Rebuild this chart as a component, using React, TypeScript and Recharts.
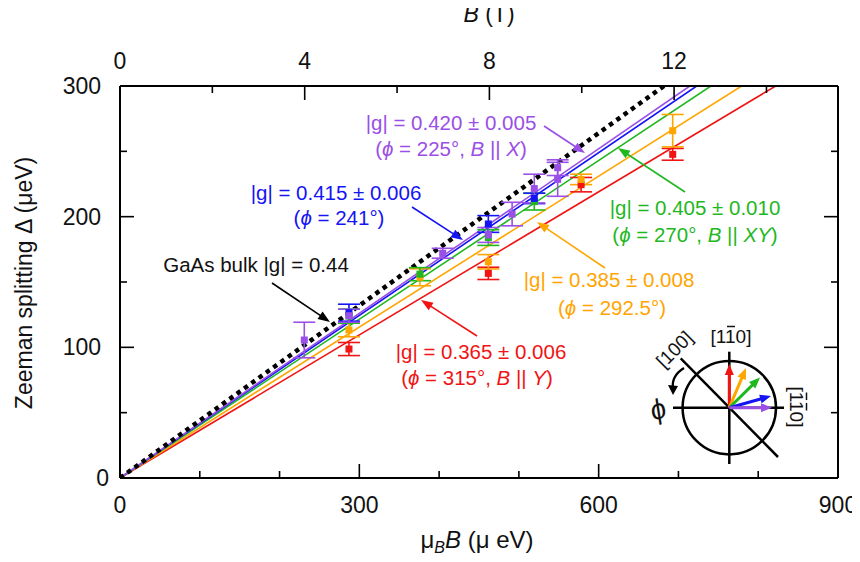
import React from "react";
import { ComposedChart, Line, Scatter, XAxis, YAxis, ErrorBar } from "recharts";

const FONT = '"Liberation Sans", Arial, Helvetica, sans-serif';

// axis ticks
const energyTicks = [0, 100, 200, 300, 400, 500, 600, 700, 800, 900];
const energyLabels = [0, 300, 600, 900];
const splitTicks = [0, 50, 100, 150, 200, 250, 300];
const splitLabels = [0, 100, 200, 300];
const fieldTicks = [0, 2, 4, 6, 8, 10, 12, 14];
const fieldLabels = [0, 4, 8, 12];
const muB = 57.88; // ueV per tesla
const fieldMax = 900 / muB;

// invisible span so the top (field) axis and right axis get drawn
const axisSpan = [{ x: 0, y: 0 }, { x: fieldMax, y: 300 }];

// fitted lines (origin to where they leave the frame at 300 ueV)
const bulkFit = [{ x: 0, y: 0 }, { x: 681.8, y: 300 }];
const purpleFit = [{ x: 0, y: 0 }, { x: 714.3, y: 300 }];
const blueFit = [{ x: 0, y: 0 }, { x: 722.9, y: 300 }];
const greenFit = [{ x: 0, y: 0 }, { x: 740.7, y: 300 }];
const orangeFit = [{ x: 0, y: 0 }, { x: 779.2, y: 300 }];
const redFit = [{ x: 0, y: 0 }, { x: 821.9, y: 300 }];

// measured points
const purplePts = [
  { x: 231, y: 105.6, e: 13.6 },
  { x: 287, y: 124.2, e: 5 },
  { x: 404.5, y: 172, e: 3.8 },
  { x: 461.7, y: 186, e: 5.7 },
  { x: 491.5, y: 202, e: 9 },
  { x: 519.3, y: 221.5, e: 11 },
  { x: 548.6, y: 237.5, e: 6 },
  { x: 548.6, y: 228.6, e: 13 },
];
const bluePts = [
  { x: 287, y: 126.5, e: 6.5 },
  { x: 461.7, y: 194.4, e: 6.4 },
  { x: 519.3, y: 214, e: 4 },
];
const greenPts = [
  { x: 287, y: 123.9, e: 5.4 },
  { x: 376, y: 156, e: 5 },
  { x: 461.7, y: 184, e: 6 },
  { x: 519.3, y: 211.5, e: 6.4 },
];
const orangePts = [
  { x: 287, y: 113.3, e: 5.2 },
  { x: 376, y: 153.6, e: 6.5 },
  { x: 461.7, y: 165.5, e: 5.5 },
  { x: 578, y: 228.5, e: 4 },
  { x: 692.8, y: 265.8, e: 12.4 },
];
const redPts = [
  { x: 287, y: 98.7, e: 5 },
  { x: 461.7, y: 156.6, e: 4.7 },
  { x: 578, y: 224.5, e: 5.5 },
  { x: 692.8, y: 247.7, e: 4.5 },
];

const C = {
  purple: "#9a4fe6",
  blue: "#1414f5",
  green: "#1fb81f",
  orange: "#ffa500",
  red: "#f01414",
};

const tickFont = { fontFamily: FONT, fontSize: 23, fill: "#111" };

const BottomTick = (p: any) => {
  const v = p.payload.value;
  const major = v % 300 === 0;
  return (
    <g>
      <line x1={p.x} x2={p.x} y1={p.y} y2={p.y - (major ? 14 : 7)} stroke="#000" strokeWidth={1.6} />
      {energyLabels.includes(v) && (
        <text x={p.x} y={p.y + 35} textAnchor="middle" {...tickFont}>{v}</text>
      )}
    </g>
  );
};
const TopTick = (p: any) => {
  const v = Math.round(p.payload.value);
  const major = v % 4 === 0;
  return (
    <g>
      <line x1={p.x} x2={p.x} y1={p.y} y2={p.y + (major ? 14 : 7)} stroke="#000" strokeWidth={1.6} />
      {fieldLabels.includes(v) && (
        <text x={p.x} y={p.y - 17} textAnchor="middle" {...tickFont}>{v}</text>
      )}
    </g>
  );
};
const LeftTick = (p: any) => {
  const v = p.payload.value;
  const major = v % 100 === 0;
  return (
    <g>
      <line x1={p.x} x2={p.x + (major ? 14 : 7)} y1={p.y} y2={p.y} stroke="#000" strokeWidth={1.6} />
      {splitLabels.includes(v) && (
        <text x={p.x - (v === 0 ? 11 : 19)} y={p.y + 8} textAnchor="end" {...tickFont}>{v}</text>
      )}
    </g>
  );
};
const RightTick = (p: any) => {
  const v = p.payload.value;
  const major = v % 100 === 0;
  return <line x1={p.x} x2={p.x - (major ? 14 : 7)} y1={p.y} y2={p.y} stroke="#000" strokeWidth={1.6} />;
};

const square = (color: string, s = 7) => (props: any) =>
  <rect x={props.cx - s / 2} y={props.cy - s / 2} width={s} height={s} fill={color} />;

function Arrow({ x1, y1, x2, y2, color, width = 1.6, len = 12, half = 4.5 }: any) {
  const dx = x2 - x1, dy = y2 - y1;
  const L = Math.hypot(dx, dy);
  const ux = dx / L, uy = dy / L;
  const bx = x2 - ux * len, by = y2 - uy * len;
  const pts = `${x2},${y2} ${bx - uy * half},${by + ux * half} ${bx + uy * half},${by - ux * half}`;
  return (
    <g>
      <line x1={x1} y1={y1} x2={bx + ux * 2} y2={by + uy * 2} stroke={color} strokeWidth={width} />
      <polygon points={pts} fill={color} />
    </g>
  );
}

const ann = { fontFamily: FONT, fontSize: 20.5, textAnchor: "middle" as const };
const it = { fontStyle: "italic" as const };

export default function App() {
  const axisLine = { stroke: "#000", strokeWidth: 2 };
  return (
    <div style={{ position: "relative", width: 860, height: 562, marginLeft: -8, marginTop: -8 }}>
      <ComposedChart width={860} height={562} margin={{ top: 56, right: 12, bottom: 44, left: 60 }}>
        <XAxis dataKey="x" type="number" domain={[0, 900]} ticks={energyTicks} allowDataOverflow interval={0}
          tickLine={false} tickSize={0} tickMargin={0} height={40} axisLine={axisLine} tick={(p: any) => <BottomTick {...p} />} />
        <XAxis xAxisId="top" dataKey="x" orientation="top" type="number" domain={[0, fieldMax]} ticks={fieldTicks} allowDataOverflow interval={0}
          tickLine={false} tickSize={0} tickMargin={0} height={30} axisLine={axisLine} tick={(p: any) => <TopTick {...p} />} />
        <YAxis type="number" domain={[0, 300]} ticks={splitTicks} allowDataOverflow interval={0}
          tickLine={false} tickSize={0} tickMargin={0} width={60} axisLine={axisLine} tick={(p: any) => <LeftTick {...p} />} />
        <YAxis yAxisId="right" orientation="right" type="number" domain={[0, 300]} ticks={splitTicks} allowDataOverflow interval={0}
          tickLine={false} tickSize={0} tickMargin={0} width={10} axisLine={axisLine} tick={(p: any) => <RightTick {...p} />} />

        <Line xAxisId="top" yAxisId="right" data={axisSpan} dataKey="y" stroke="none" dot={false} activeDot={false} legendType="none" isAnimationActive={false} />

        <Line data={redFit} dataKey="y" stroke={C.red} strokeWidth={1.6} dot={false} activeDot={false} isAnimationActive={false} />
        <Line data={orangeFit} dataKey="y" stroke={C.orange} strokeWidth={1.6} dot={false} activeDot={false} isAnimationActive={false} />
        <Line data={greenFit} dataKey="y" stroke={C.green} strokeWidth={1.6} dot={false} activeDot={false} isAnimationActive={false} />
        <Line data={blueFit} dataKey="y" stroke={C.blue} strokeWidth={1.6} dot={false} activeDot={false} isAnimationActive={false} />
        <Line data={purpleFit} dataKey="y" stroke={C.purple} strokeWidth={1.6} dot={false} activeDot={false} isAnimationActive={false} />
        <Line data={bulkFit} dataKey="y" stroke="#000" strokeWidth={4.5} strokeDasharray="4.5 4.5" dot={false} activeDot={false} isAnimationActive={false} />

        <Scatter data={redPts} dataKey="y" fill={C.red} shape={square(C.red)} isAnimationActive={false}>
          <ErrorBar dataKey="e" direction="y" width={11} stroke={C.red} strokeWidth={1.6} />
        </Scatter>
        <Scatter data={orangePts} dataKey="y" fill={C.orange} shape={square(C.orange)} isAnimationActive={false}>
          <ErrorBar dataKey="e" direction="y" width={11} stroke={C.orange} strokeWidth={1.6} />
        </Scatter>
        <Scatter data={greenPts} dataKey="y" fill={C.green} shape={square(C.green)} isAnimationActive={false}>
          <ErrorBar dataKey="e" direction="y" width={11} stroke={C.green} strokeWidth={1.6} />
        </Scatter>
        <Scatter data={bluePts} dataKey="y" fill={C.blue} shape={square(C.blue)} isAnimationActive={false}>
          <ErrorBar dataKey="e" direction="y" width={11} stroke={C.blue} strokeWidth={1.6} />
        </Scatter>
        <Scatter data={purplePts} dataKey="y" fill={C.purple} shape={square(C.purple)} isAnimationActive={false}>
          <ErrorBar dataKey="e" direction="y" width={11} stroke={C.purple} strokeWidth={1.6} />
        </Scatter>
      </ComposedChart>

      <svg width={860} height={562} style={{ position: "absolute", left: 0, top: 0, pointerEvents: "none", overflow: "visible" }}>
        {/* axis titles */}
        <text x={32} y={283} transform="rotate(-90 32 283)" textAnchor="middle" fontFamily={FONT} fontSize={23} fill="#111">
          Zeeman splitting Δ (μeV)
        </text>
        <text x={477} y={548} textAnchor="middle" fontFamily={FONT} fontSize={24} fill="#111">
          μ<tspan fontSize={16} dy={5} {...it}>B</tspan><tspan dy={-5} {...it}>B</tspan> (μ eV)
        </text>
        <text x={489} y={22} textAnchor="middle" fontFamily={FONT} fontSize={23} fill="#111">
          <tspan {...it}>B</tspan> (T)
        </text>

        {/* purple */}
        <text x={451} y={130} {...ann} fill={C.purple}>|g| = 0.420 ± 0.005</text>
        <text x={451} y={156} {...ann} fill={C.purple}>(<tspan {...it}>ϕ</tspan> = 225°, <tspan {...it}>B</tspan> || <tspan {...it}>X</tspan>)</text>
        <Arrow x1={544} y1={126} x2={585} y2={153} color={C.purple} />

        {/* blue */}
        <text x={336} y={200} {...ann} fill={C.blue}>|g| = 0.415 ± 0.006</text>
        <text x={339} y={225} {...ann} fill={C.blue}>(<tspan {...it}>ϕ</tspan> = 241°)</text>
        <Arrow x1={412} y1={207} x2={463} y2={240} color={C.blue} />

        {/* black */}
        <text x={256} y={272} {...ann} fill="#111">GaAs bulk |g| = 0.44</text>
        <Arrow x1={272} y1={283} x2={330} y2={322} color="#000" />

        {/* green */}
        <text x={695} y={215} {...ann} fill={C.green}>|g| = 0.405 ± 0.010</text>
        <text x={695} y={242} {...ann} fill={C.green}>(<tspan {...it}>ϕ</tspan> = 270°, <tspan {...it}>B</tspan> || <tspan {...it}>XY</tspan>)</text>
        <Arrow x1={685} y1={192} x2={618} y2={148} color={C.green} />

        {/* orange */}
        <text x={609} y={287} {...ann} fill={C.orange}>|g| = 0.385 ± 0.008</text>
        <text x={612} y={315} {...ann} fill={C.orange}>(<tspan {...it}>ϕ</tspan> = 292.5°)</text>
        <Arrow x1={605} y1={268} x2={537} y2={222} color={C.orange} />

        {/* red */}
        <text x={481} y={359} {...ann} fill={C.red}>|g| = 0.365 ± 0.006</text>
        <text x={477} y={385} {...ann} fill={C.red}>(<tspan {...it}>ϕ</tspan> = 315°, <tspan {...it}>B</tspan> || <tspan {...it}>Y</tspan>)</text>
        <Arrow x1={477} y1={336} x2={421} y2={300} color={C.red} />

        {/* inset */}
        <g stroke="#000" strokeWidth={2.5} fill="none">
          <circle cx={729.3} cy={407.7} r={46.7} />
          <line x1={673} y1={407.7} x2={784} y2={407.7} />
          <line x1={729.3} y1={351.7} x2={729.3} y2={464} />
          <line x1={680.7} y1={358.3} x2={778} y2={457} />
        </g>
        <Arrow x1={729.3} y1={407.7} x2={729.3} y2={364} color={C.red} width={3} len={11} half={4.5} />
        <Arrow x1={729.3} y1={407.7} x2={746} y2={368} color={C.orange} width={3} len={11} half={4.5} />
        <Arrow x1={729.3} y1={407.7} x2={760} y2={377.5} color={C.green} width={3} len={11} half={4.5} />
        <Arrow x1={729.3} y1={407.7} x2={771} y2={396} color={C.blue} width={3} len={11} half={4.5} />
        <Arrow x1={729.3} y1={407.7} x2={772} y2={407.7} color={C.purple} width={3} len={11} half={4.5} />

        <text x={731} y={343} textAnchor="middle" fontFamily={FONT} fontSize={19} fill="#111">[110]</text>
        <line x1={727} y1={326.5} x2={735} y2={326.5} stroke="#111" strokeWidth={1.5} />

        <g transform="translate(797,407) rotate(90)">
          <text x={0} y={7} textAnchor="middle" fontFamily={FONT} fontSize={19} fill="#111">[110]</text>
          <line x1={-14.5} y1={-9.5} x2={-7} y2={-9.5} stroke="#111" strokeWidth={1.5} />
          <line x1={-4} y1={-9.5} x2={3.5} y2={-9.5} stroke="#111" strokeWidth={1.5} />
        </g>

        <g transform="translate(674,349) rotate(-45)">
          <text x={0} y={7} textAnchor="middle" fontFamily={FONT} fontSize={19} fill="#111">[100]</text>
        </g>

        <path d="M684,368 Q671,376 673,389" stroke="#000" strokeWidth={2.2} fill="none" />
        <polygon points="673,395 668,385 678,386" fill="#000" />
        <text x={658} y={419} transform="rotate(-20 658 410)" textAnchor="middle" fontFamily={FONT} fontSize={28} fontStyle="italic" fill="#111">ϕ</text>
      </svg>
    </div>
  );
}
